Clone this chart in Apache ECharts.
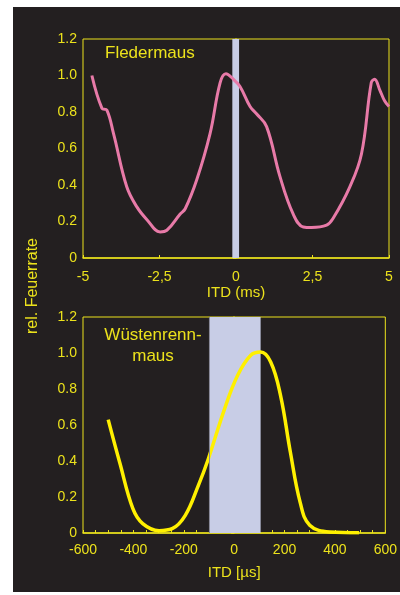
<!DOCTYPE html>
<html>
<head>
<meta charset="utf-8">
<script src="https://cdn.jsdelivr.net/npm/echarts@6/dist/echarts.min.js"></script>
<style>
  html, body { margin: 0; padding: 0; background: #ffffff; }
  #main { width: 400px; height: 595px; }
</style>
</head>
<body>
<div id="main"></div>
<script>
// Fledermaus (bat): ITD in ms
var batItd = [-4.71, -4.38, -4.22, -4.0, -3.57, -3.24, -2.91, -2.48, -2.26, -1.83, -1.66, -1.28, -0.85, -0.52, -0.33, -0.09, 0.13, 0.46, 0.67, 1.0, 1.43, 1.87, 2.2, 2.47, 2.96, 3.17, 3.72, 4.1, 4.42, 4.53, 4.7, 4.86, 5.0];
var batRate = [1.0, 0.82, 0.81, 0.68, 0.39, 0.28, 0.21, 0.143, 0.152, 0.24, 0.27, 0.43, 0.68, 0.96, 1.01, 0.98, 0.94, 0.83, 0.79, 0.72, 0.45, 0.24, 0.17, 0.167, 0.18, 0.216, 0.39, 0.57, 0.96, 0.98, 0.92, 0.86, 0.83];
var batBand = [-0.12, 0.1];

// Wuestenrennmaus (gerbil): ITD in microseconds
var gerbilItd = [-500, -454, -402, -363, -298, -246, -194, -142, -103, -38, 14, 66, 105, 145, 184, 223, 262, 300, 379, 496];
var gerbilRate = [0.63, 0.39, 0.135, 0.052, 0.013, 0.024, 0.098, 0.265, 0.41, 0.69, 0.876, 0.987, 1.005, 0.95, 0.765, 0.45, 0.17, 0.043, 0.006, 0.002];
var gerbilBand = [-100, 105];

var yel = '#ece21c';
var bg = '#231f20';
var font = 'Liberation Sans, Arial, sans-serif';

function pairs(xs, ys) {
  var out = [];
  for (var i = 0; i < xs.length; i++) out.push([xs[i], ys[i]]);
  return out;
}

function yAxisCfg(idx) {
  return {
    type: 'value', gridIndex: idx, min: 0, max: 1.2, interval: 0.2,
    axisLine: { show: true, lineStyle: { color: yel, width: 1.5 } },
    axisTick: { show: true, inside: false, length: 3, lineStyle: { color: yel } },
    splitLine: { show: false },
    axisLabel: {
      color: yel, fontSize: 14, fontFamily: font, margin: 6,
      formatter: function (v) { return v === 0 ? '0' : v.toFixed(1); }
    }
  };
}

var myChart = echarts.init(document.getElementById('main'));
var option = {
  backgroundColor: '#ffffff',
  animation: false,
  graphic: [
    { type: 'rect', z: -10, shape: { x: 13, y: 7, width: 387, height: 585 }, style: { fill: bg } },
    { type: 'text', left: 105, top: 45, style: { text: 'Fledermaus', fill: yel, font: '17px ' + font } },
    { type: 'text', x: 153, y: 325, style: { text: 'Wüstenrenn-\nmaus', fill: yel, font: '17px ' + font, textAlign: 'center', lineHeight: 21 } },
    { type: 'text', x: 33, y: 286, rotation: Math.PI / 2, style: { text: 'rel. Feuerrate', fill: yel, font: '16px ' + font, textAlign: 'center', textVerticalAlign: 'middle' } }
  ],
  grid: [
    { left: 83, top: 39, width: 306, height: 219, show: true, borderColor: yel, borderWidth: 1, backgroundColor: 'transparent' },
    { left: 83, top: 317, width: 307, height: 216, show: true, borderColor: yel, borderWidth: 1, backgroundColor: 'transparent' }
  ],
  xAxis: [
    {
      type: 'value', gridIndex: 0, min: -5, max: 5, interval: 2.5,
      name: 'ITD (ms)', nameLocation: 'middle', nameGap: 26,
      nameTextStyle: { color: yel, fontSize: 15, fontFamily: font },
      axisLine: { show: true, lineStyle: { color: yel, width: 1.5 } },
      axisTick: { show: true, inside: true, length: 3, lineStyle: { color: yel } },
      splitLine: { show: false },
      axisLabel: {
        color: yel, fontSize: 14, fontFamily: font, margin: 12,
        formatter: function (v) { return String(v).replace('.', ','); }
      }
    },
    {
      type: 'value', gridIndex: 1, min: -600, max: 600, interval: 200,
      name: 'ITD [µs]', nameLocation: 'middle', nameGap: 32,
      nameTextStyle: { color: yel, fontSize: 15, fontFamily: font },
      axisLine: { show: true, lineStyle: { color: yel, width: 1.5 } },
      axisTick: { show: true, inside: true, length: 3, lineStyle: { color: yel } },
      minorTick: { show: true, splitNumber: 4, length: 3, lineStyle: { color: yel } },
      splitLine: { show: false },
      axisLabel: { color: yel, fontSize: 14, fontFamily: font, margin: 10 }
    }
  ],
  yAxis: [yAxisCfg(0), yAxisCfg(1)],
  series: [
    {
      type: 'line', xAxisIndex: 0, yAxisIndex: 0, smooth: 0.4, symbol: 'none',
      lineStyle: { color: '#e87aa8', width: 3 },
      data: pairs(batItd, batRate),
      markArea: {
        silent: true,
        itemStyle: { color: '#c8cde6', opacity: 1 },
        data: [[{ xAxis: batBand[0] }, { xAxis: batBand[1] }]]
      }
    },
    {
      type: 'line', xAxisIndex: 1, yAxisIndex: 1, smooth: 0.4, symbol: 'none',
      lineStyle: { color: '#fff000', width: 3.5 },
      data: pairs(gerbilItd, gerbilRate),
      markArea: {
        silent: true,
        itemStyle: { color: '#c8cde6', opacity: 1 },
        data: [[{ xAxis: gerbilBand[0] }, { xAxis: gerbilBand[1] }]]
      },
      markLine: {
        silent: true, symbol: 'none', label: { show: false },
        lineStyle: { color: '#8a8a9a', width: 1, type: 'solid' },
        data: [{ xAxis: gerbilBand[0] }]
      }
    }
  ]
};
myChart.setOption(option);
</script>
</body>
</html>
